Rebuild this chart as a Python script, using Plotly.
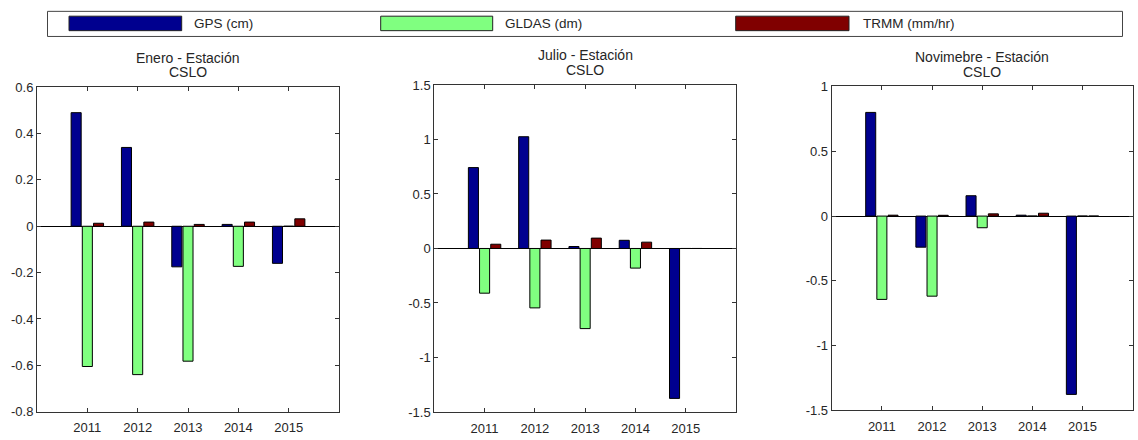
import plotly.graph_objects as go

# ---------------- data ----------------
years = [2011, 2012, 2013, 2014, 2015]

ene_gps = [0.49, 0.34, -0.175, 0.008, -0.16]
ene_gldas = [-0.605, -0.64, -0.582, -0.173, 0.0]
ene_trmm = [0.013, 0.018, 0.008, 0.018, 0.032]

jul_gps = [0.742, 1.025, 0.018, 0.075, -1.375]
jul_gldas = [-0.41, -0.545, -0.735, -0.18, 0.0]
jul_trmm = [0.039, 0.077, 0.095, 0.058, 0.0]

nov_gps = [0.80, -0.24, 0.157, 0.007, -1.376]
nov_gldas = [-0.643, -0.618, -0.09, 0.0, 0.0]
nov_trmm = [0.007, 0.006, 0.017, 0.022, 0.0]

series_names = ["GPS (cm)", "GLDAS (dm)", "TRMM (mm/hr)"]
titles = ["Enero - Estación", "Julio - Estación", "Novimebre - Estación"]
subtitle = "CSLO"

ene_yticks = [0.6, 0.4, 0.2, 0, -0.2, -0.4, -0.6, -0.8]
ene_ylabels = ["0.6", "0.4", "0.2", "0", "-0.2", "-0.4", "-0.6", "-0.8"]
jul_yticks = [1.5, 1, 0.5, 0, -0.5, -1, -1.5]
jul_ylabels = ["1.5", "1", "0.5", "0", "-0.5", "-1", "-1.5"]
nov_yticks = [1, 0.5, 0, -0.5, -1, -1.5]
nov_ylabels = ["1", "0.5", "0", "-0.5", "-1", "-1.5"]
xlabels = ["2011", "2012", "2013", "2014", "2015"]

# ---------------- style ----------------
W, H = 1138, 440
colors = ["#00008F", "#80FF80", "#800000"]
FONT = "Liberation Sans, Arial, Helvetica, sans-serif"
TXT = "#262626"
AX = "#333333"
TICK_SIZE = 13
TITLE_SIZE = 14
LEG_SIZE = 13.5

panels = [
    dict(data=[ene_gps, ene_gldas, ene_trmm], yr=[-0.8, 0.6], yt=ene_yticks, yl=ene_ylabels,
         px=(37, 339), py=(83, 419)),
    dict(data=[jul_gps, jul_gldas, jul_trmm], yr=[-1.5, 1.5], yt=jul_yticks, yl=jul_ylabels,
         px=(434.3, 736), py=(80.7, 419.3)),
    dict(data=[nov_gps, nov_gldas, nov_trmm], yr=[-1.5, 1.0], yt=nov_yticks, yl=nov_ylabels,
         px=(831.7, 1132.7), py=(82.3, 417.7)),
]


def fx(p):
    return p / W


def fy(p):
    return 1 - p / H


fig = go.Figure()
layout = dict(
    width=W, height=H, margin=dict(l=0, r=0, t=0, b=0),
    paper_bgcolor="white", plot_bgcolor="white",
    barmode="group", bargap=0.3333, bargroupgap=0.1,
    showlegend=False, font=dict(family=FONT, size=12, color=TXT),
)
annotations = []
shapes = []

for i, p in enumerate(panels):
    sfx = "" if i == 0 else str(i + 1)
    xa, ya = "x" + sfx, "y" + sfx
    for s in range(3):
        fig.add_trace(go.Bar(
            x=years, y=p["data"][s], name=series_names[s], xaxis=xa, yaxis=ya,
            marker=dict(color=colors[s], line=dict(color="black", width=1)),
            offsetgroup=str(s),
        ))
    layout["xaxis" + sfx] = dict(
        domain=[fx(p["px"][0]), fx(p["px"][1])], anchor=ya, range=[2010, 2016],
        tickvals=years, ticktext=xlabels, ticks="inside", ticklen=4, tickcolor=AX,
        showline=True, linecolor=AX, linewidth=1, mirror="ticks", showgrid=False,
        zeroline=False, ticklabelstandoff=4,
        tickfont=dict(family=FONT, size=TICK_SIZE, color=TXT), fixedrange=True,
    )
    layout["yaxis" + sfx] = dict(
        domain=[fy(p["py"][1]), fy(p["py"][0])], anchor=xa, range=p["yr"],
        tickvals=p["yt"], ticktext=p["yl"], ticks="inside", ticklen=4, tickcolor=AX,
        showline=True, linecolor=AX, linewidth=1, mirror="ticks", showgrid=False,
        zeroline=True, zerolinecolor="black", zerolinewidth=1,
        tickfont=dict(family=FONT, size=TICK_SIZE, color=TXT), fixedrange=True,
    )
    cx = fx((p["px"][0] + p["px"][1]) / 2)
    top = p["py"][0]
    annotations.append(dict(text=titles[i], x=cx, y=fy(top - 30.5), xref="paper", yref="paper",
                            xanchor="center", yanchor="middle", showarrow=False,
                            font=dict(family=FONT, size=TITLE_SIZE, color=TXT)))
    annotations.append(dict(text=subtitle, x=cx, y=fy(top - 15.5), xref="paper", yref="paper",
                            xanchor="center", yanchor="middle", showarrow=False,
                            font=dict(family=FONT, size=TITLE_SIZE, color=TXT)))

# ---------------- legend box (drawn manually) ----------------
shapes.append(dict(type="rect", xref="paper", yref="paper", x0=fx(47.5), x1=fx(1122.5),
                   y0=fy(30.5), y1=fy(4.5), line=dict(color="#444444", width=1),
                   fillcolor="white", layer="below"))
leg_rects = [(69, 181.7), (380.7, 492.7), (735.7, 849)]
leg_text_x = [191.5, 502.5, 861]
for s in range(3):
    shapes.append(dict(type="rect", xref="paper", yref="paper",
                       x0=fx(leg_rects[s][0]), x1=fx(leg_rects[s][1]),
                       y0=fy(24.5), y1=fy(9.5), fillcolor=colors[s],
                       line=dict(color="#222222", width=1)))
    annotations.append(dict(text=series_names[s], x=fx(leg_text_x[s]), y=fy(17.5),
                            xref="paper", yref="paper", xanchor="left", yanchor="middle",
                            showarrow=False, font=dict(family=FONT, size=LEG_SIZE, color=TXT)))

layout["annotations"] = annotations
layout["shapes"] = shapes
fig.update_layout(**layout)
fig.write_html("out.html")
